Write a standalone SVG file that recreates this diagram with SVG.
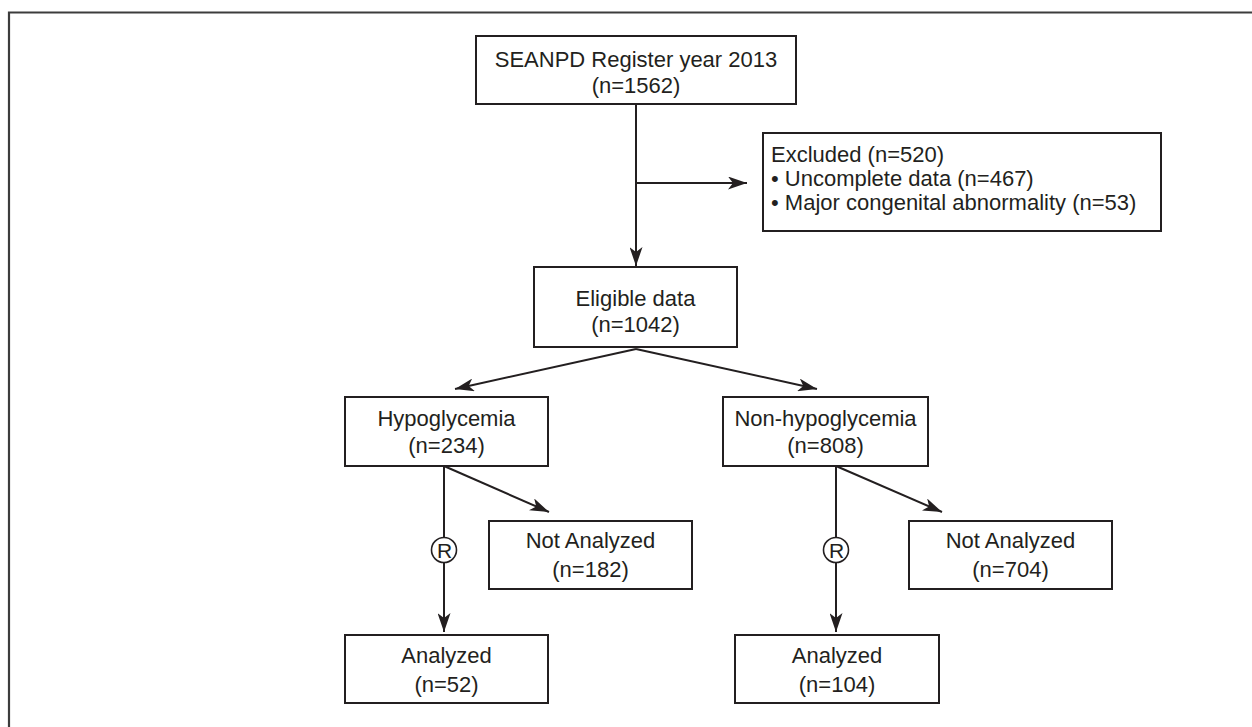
<svg xmlns="http://www.w3.org/2000/svg" width="1252" height="727" viewBox="0 0 1252 727">
<style>
.box{fill:#fff;stroke:#231f20;stroke-width:2}
.t{font-family:"Liberation Sans",Arial,sans-serif;font-size:22px;fill:#231f20}
.c{text-anchor:middle}
.ln{fill:none;stroke:#231f20;stroke-width:2}
.frame{fill:none;stroke:#3c3c3c;stroke-width:2.2}
.rc{fill:#fff;stroke:#231f20;stroke-width:1.6}
.rt{font-size:21px}
</style>
<defs>
<marker id="ah" markerUnits="userSpaceOnUse" markerWidth="19" markerHeight="13" refX="19" refY="6.5" orient="auto">
<path d="M0,0 L19,6.5 L0,13 L5,6.5 Z" fill="#231f20"/>
</marker>
</defs>
<rect width="1252" height="727" fill="#fff"/>
<path class="frame" d="M9,727 V12.5 H1252"/>
<g id="connectors">
<path class="ln" d="M636,104 V266" marker-end="url(#ah)"/>
<path class="ln" d="M636,183 H747" marker-end="url(#ah)"/>
<path class="ln" d="M636,349 L455,389" marker-end="url(#ah)"/>
<path class="ln" d="M636,349 L817,389" marker-end="url(#ah)"/>
<path class="ln" d="M444,466 V632" marker-end="url(#ah)"/>
<path class="ln" d="M444,466 L549,512" marker-end="url(#ah)"/>
<path class="ln" d="M836,466 V632" marker-end="url(#ah)"/>
<path class="ln" d="M836,466 L942,512" marker-end="url(#ah)"/>
<g id="rand1"><circle class="rc" cx="444" cy="550" r="12.5"/><text class="t c rt" x="444.5" y="557.5">R</text></g>
<g id="rand2"><circle class="rc" cx="836" cy="550" r="12.5"/><text class="t c rt" x="836.5" y="557.5">R</text></g>
</g>
<g id="register">
<rect class="box" x="476" y="36" width="320" height="68"/>
<text class="t c" x="636" y="67">SEANPD Register year 2013</text>
<text class="t c" x="636" y="93">(n=1562)</text>
</g>
<g id="excluded">
<rect class="box" x="763" y="133" width="398" height="98"/>
<text class="t" x="771" y="162">Excluded (n=520)</text>
<text class="t" x="771" y="186">• Uncomplete data (n=467)</text>
<text class="t" x="771" y="210">• Major congenital abnormality (n=53)</text>
</g>
<g id="eligible">
<rect class="box" x="534" y="267" width="203" height="80"/>
<text class="t c" x="635.5" y="306">Eligible data</text>
<text class="t c" x="635.5" y="332">(n=1042)</text>
</g>
<g id="hypo">
<rect class="box" x="345" y="397" width="203" height="69"/>
<text class="t c" x="446.5" y="426">Hypoglycemia</text>
<text class="t c" x="446.5" y="453">(n=234)</text>
</g>
<g id="nonhypo">
<rect class="box" x="723" y="397" width="205" height="69"/>
<text class="t c" x="825.5" y="426">Non-hypoglycemia</text>
<text class="t c" x="825.5" y="453">(n=808)</text>
</g>
<g id="notanalyzed1">
<rect class="box" x="489" y="521" width="203" height="68"/>
<text class="t c" x="590.5" y="548">Not Analyzed</text>
<text class="t c" x="590.5" y="577">(n=182)</text>
</g>
<g id="notanalyzed2">
<rect class="box" x="909" y="521" width="203" height="68"/>
<text class="t c" x="1010.5" y="548">Not Analyzed</text>
<text class="t c" x="1010.5" y="577">(n=704)</text>
</g>
<g id="analyzed1">
<rect class="box" x="345" y="635" width="203" height="68"/>
<text class="t c" x="446.5" y="663">Analyzed</text>
<text class="t c" x="446.5" y="692">(n=52)</text>
</g>
<g id="analyzed2">
<rect class="box" x="735" y="635" width="204" height="68"/>
<text class="t c" x="837" y="663">Analyzed</text>
<text class="t c" x="837" y="692">(n=104)</text>
</g>
</svg>
